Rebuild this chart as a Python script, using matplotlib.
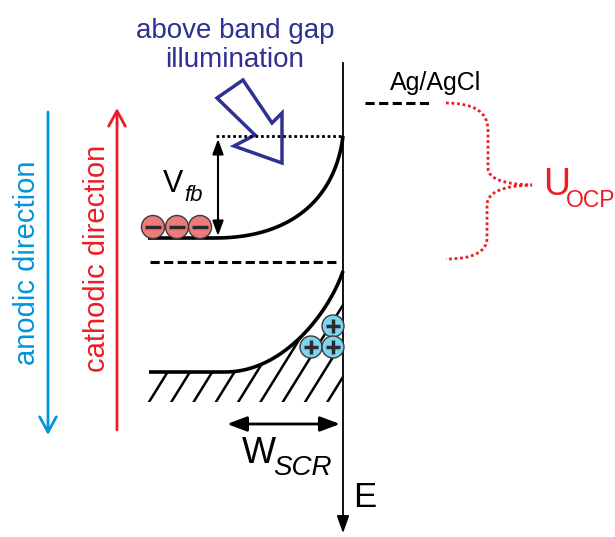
import numpy as np
import matplotlib
matplotlib.use("Agg")
import matplotlib.pyplot as plt
from matplotlib.patches import Circle, Polygon, PathPatch
from matplotlib.path import Path

plt.rcParams['font.family'] = ['Liberation Sans', 'DejaVu Sans']

# schematic levels (pixel units, y grows downward)
interface_x = 343
fb_level = 136        # flat band level (dotted)
cb_level = 238        # conduction band edge in bulk
fermi_level = 262     # dashed line
vb_level = 372        # valence band edge in bulk
vb_top = 271          # valence band at surface
hatch_bottom = 402
ref_level = 103       # Ag/AgCl
neg_x = [153, 177, 200]
neg_y = 227
pos_xy = [(333, 326), (311, 347), (333, 347)]
light_arrow = [(217, 98), (243, 80), (272, 123), (282, 113), (282, 163),
               (234, 146), (255, 135)]

navy = '#2E3192'
blue = '#0095DA'
red = '#ED1C24'


def bez(p0, p1, p2, p3, n=100):
    t = np.linspace(0, 1, n)[:, None]
    p0, p1, p2, p3 = map(np.array, (p0, p1, p2, p3))
    return (1-t)**3*p0 + 3*(1-t)**2*t*p1 + 3*(1-t)*t**2*p2 + t**3*p3


fig = plt.figure(figsize=(6.15, 5.37), dpi=100)
ax = fig.add_axes([0, 0, 1, 1])
ax.set_xlim(0, 615)
ax.set_ylim(537, 0)
ax.axis('off')

# interface / energy axis
ax.annotate('', xy=(interface_x, 536), xytext=(interface_x, 60),
            arrowprops=dict(arrowstyle='-|>,head_length=0.7,head_width=0.25',
                            lw=1.3, color='k', mutation_scale=15))
ax.text(353, 507, 'E', fontsize=25, va='baseline', ha='left')

# conduction band
cb = bez((215, cb_level), (290, cb_level), (335, 200), (interface_x, fb_level))
ax.plot(np.r_[148, cb[:, 0]], np.r_[cb_level, cb[:, 1]], color='k', lw=2.6,
        solid_capstyle='butt')
# valence band
vb = bez((225, vb_level), (285, vb_level), (330, 310), (interface_x, vb_top))
ax.plot(np.r_[149, vb[:, 0]], np.r_[vb_level, vb[:, 1]], color='k', lw=2.6,
        solid_capstyle='butt')

# hatching below valence band
clip = Polygon(np.r_[[[146, hatch_bottom], [146, vb_level]], vb,
                     [[interface_x, hatch_bottom]]],
               closed=True, fc='none', ec='none')
ax.add_patch(clip)
for xb in np.arange(149, 400, 22.3):
    ln, = ax.plot([xb, xb + 18 * 4], [hatch_bottom, hatch_bottom - 29 * 4],
                  color='k', lw=1.8)
    ln.set_clip_path(clip)

# flat band dotted and Fermi dashed
ax.plot([216, interface_x], [fb_level, fb_level], color='k', lw=2,
        linestyle=(0, (1, 1)))
ax.plot([150, 340], [fermi_level, fermi_level], color='k', lw=2.2,
        linestyle=(0, (3, 1.45)))

# V_fb arrow
ax.annotate('', xy=(218, 236), xytext=(218, 139),
            arrowprops=dict(arrowstyle='<|-|>,head_length=0.6,head_width=0.22',
                            lw=1.5, color='k', mutation_scale=15,
                            shrinkA=0, shrinkB=0))
ax.text(163, 192, 'V', fontsize=22, va='baseline')
ax.text(184, 201, 'fb', fontsize=16, style='italic', va='baseline')

# electrons and holes
for x in neg_x:
    ax.add_patch(Circle((x, neg_y), 11.5, fc='#EE7B7B', ec='#3a3a3a', lw=1, zorder=5))
    ax.plot([x - 8, x + 8], [neg_y, neg_y], color='#2b2b2b', lw=2.5, zorder=6,
            solid_capstyle='butt')
for x, y in pos_xy:
    ax.add_patch(Circle((x, y), 11, fc='#7DD3F0', ec='#3a3a3a', lw=1, zorder=5))
    ax.plot([x - 7, x + 7], [y, y], color='#2b2b2b', lw=2.5, zorder=6,
            solid_capstyle='butt')
    ax.plot([x, x], [y - 7, y + 7], color='#2b2b2b', lw=2.5, zorder=6,
            solid_capstyle='butt')

# W_SCR
ax.annotate('', xy=(340, 424), xytext=(227, 424),
            arrowprops=dict(arrowstyle='<|-|>,head_length=0.8,head_width=0.3',
                            lw=2, color='k', mutation_scale=15,
                            shrinkA=0, shrinkB=0))
ax.text(242, 463, 'W', fontsize=26, va='baseline')
ax.text(273, 475, 'SCR', fontsize=20, style='italic', va='baseline')

# illumination
ax.add_patch(Polygon(light_arrow, closed=True, fc='none', ec=navy, lw=2.5,
                     joinstyle='miter'))
ax.text(235, 38, 'above band gap', fontsize=20, color=navy, ha='center',
        va='baseline')
ax.text(235, 67, 'illumination', fontsize=20, color=navy, ha='center',
        va='baseline')

# reference electrode
ax.plot([365, 432], [ref_level, ref_level], color='k', lw=2.2,
        linestyle=(0, (3, 1.45)))
ax.text(390, 90, 'Ag/AgCl', fontsize=18, va='baseline')

# U_OCP brace
verts = [(446, ref_level), (488, ref_level), (488, 130), (488, 168),
         (488, 184), (532, 185),
         (487, 186), (487, 205), (487, 238), (487, 259), (446, 259)]
codes = [Path.MOVETO, Path.CURVE3, Path.CURVE3, Path.LINETO,
         Path.CURVE3, Path.CURVE3,
         Path.CURVE3, Path.CURVE3, Path.LINETO, Path.CURVE3, Path.CURVE3]
ax.add_patch(PathPatch(Path(verts, codes), fc='none', ec=red, lw=2,
                       linestyle=(0, (1, 1))))
ax.text(543, 195, 'U', fontsize=27, color=red, va='baseline')
ax.text(566, 207, 'OCP', fontsize=16.5, color=red, va='baseline')

# direction arrows
ax.annotate('', xy=(48, 435), xytext=(48, 112),
            arrowprops=dict(arrowstyle='->,head_length=0.55,head_width=0.3',
                            lw=2, color=blue, mutation_scale=20,
                            shrinkA=0, shrinkB=0))
ax.text(35, 263, 'anodic direction', fontsize=21, color=blue, rotation=90,
        rotation_mode='anchor', ha='center', va='baseline')
ax.annotate('', xy=(117, 108), xytext=(117, 430),
            arrowprops=dict(arrowstyle='->,head_length=0.55,head_width=0.3',
                            lw=2, color=red, mutation_scale=20,
                            shrinkA=0, shrinkB=0))
ax.text(105, 258, 'cathodic direction', fontsize=21, color=red, rotation=90,
        rotation_mode='anchor', ha='center', va='baseline')

fig.savefig('out.png', dpi=100)
